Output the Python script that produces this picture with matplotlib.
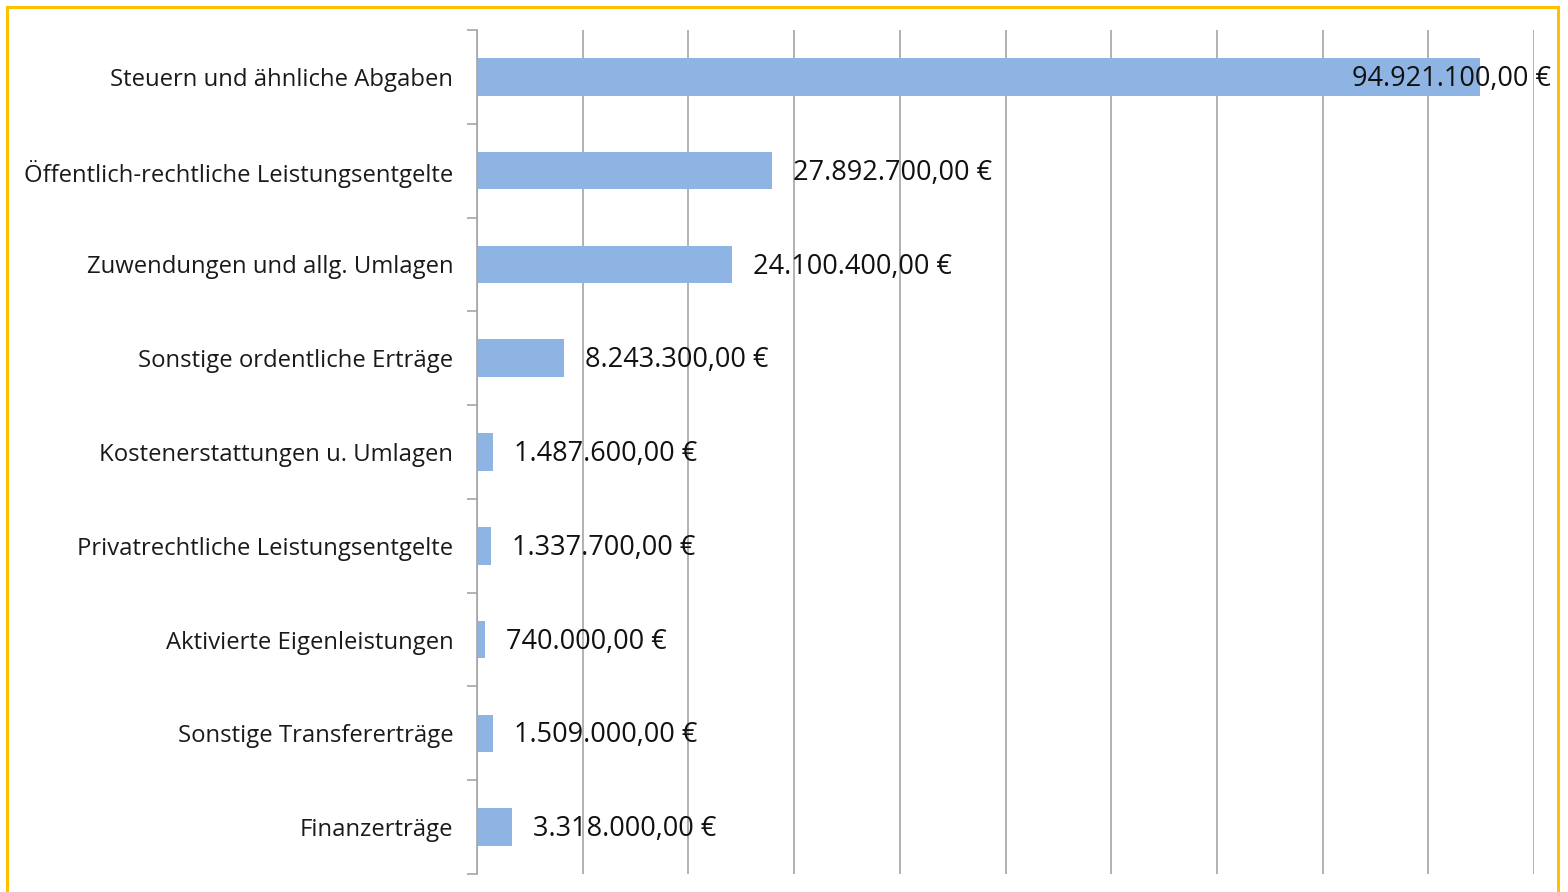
import matplotlib.pyplot as plt
import numpy as np
from matplotlib.patches import Rectangle
from matplotlib.ticker import MultipleLocator, FixedLocator

categories = [
    "Steuern und ähnliche Abgaben",
    "Öffentlich-rechtliche Leistungsentgelte",
    "Zuwendungen und allg. Umlagen",
    "Sonstige ordentliche Erträge",
    "Kostenerstattungen u. Umlagen",
    "Privatrechtliche Leistungsentgelte",
    "Aktivierte Eigenleistungen",
    "Sonstige Transfererträge",
    "Finanzerträge",
]
values = [94921100, 27892700, 24100400, 8243300, 1487600, 1337700, 740000, 1509000, 3318000]
value_labels = [
    "94.921.100,00 €",
    "27.892.700,00 €",
    "24.100.400,00 €",
    "8.243.300,00 €",
    "1.487.600,00 €",
    "1.337.700,00 €",
    "740.000,00 €",
    "1.509.000,00 €",
    "3.318.000,00 €",
]

plt.rcParams["font.family"] = ["Open Sans", "DejaVu Sans"]

fig = plt.figure(figsize=(15.68, 8.92), dpi=100)
ax = fig.add_axes([477 / 1568, 1 - 874 / 892, (1534 - 477) / 1568, (874 - 30) / 892])

y = np.arange(len(categories))
ax.barh(y, values, height=0.4, color="#8eb4e3", zorder=2)

ax.set_xlim(0, 100_000_000)
ax.set_ylim(len(categories) - 0.5, -0.5)
ax.xaxis.set_major_locator(MultipleLocator(10_000_000))
ax.grid(axis="x", color="#a6a6a6", linewidth=1.2, zorder=0)
ax.tick_params(axis="x", bottom=False, labelbottom=False)

ax.set_yticks(y)
ax.set_yticklabels(categories, fontsize=17.2, color="#1a1a1a")
ax.tick_params(axis="y", which="major", length=0, pad=17)
ax.yaxis.set_minor_locator(FixedLocator(np.arange(-0.5, len(categories), 1)))
ax.tick_params(axis="y", which="minor", length=7, color="#a6a6a6", width=1.2)

for s in ["top", "right", "bottom"]:
    ax.spines[s].set_visible(False)
ax.spines["left"].set_color("#a6a6a6")
ax.spines["left"].set_linewidth(1.2)

for i, (v, lab) in enumerate(zip(values, value_labels)):
    if i == 0:
        ax.annotate(lab, xy=(v, i), xytext=(51, -1.5), textcoords="offset points",
                    ha="right", va="center", fontsize=19.5, color="#111111", zorder=3)
    else:
        ax.annotate(lab, xy=(v, i), xytext=(15, -1.5), textcoords="offset points",
                    ha="left", va="center", fontsize=19.5, color="#111111", zorder=3)

fig.patches.append(Rectangle((7 / 1568, -0.05), (1558 - 7) / 1568, 1.05 - 7 / 892,
                             transform=fig.transFigure, fill=False,
                             edgecolor="#ffc000", linewidth=2.2))

fig.savefig("out.png", dpi=100)
